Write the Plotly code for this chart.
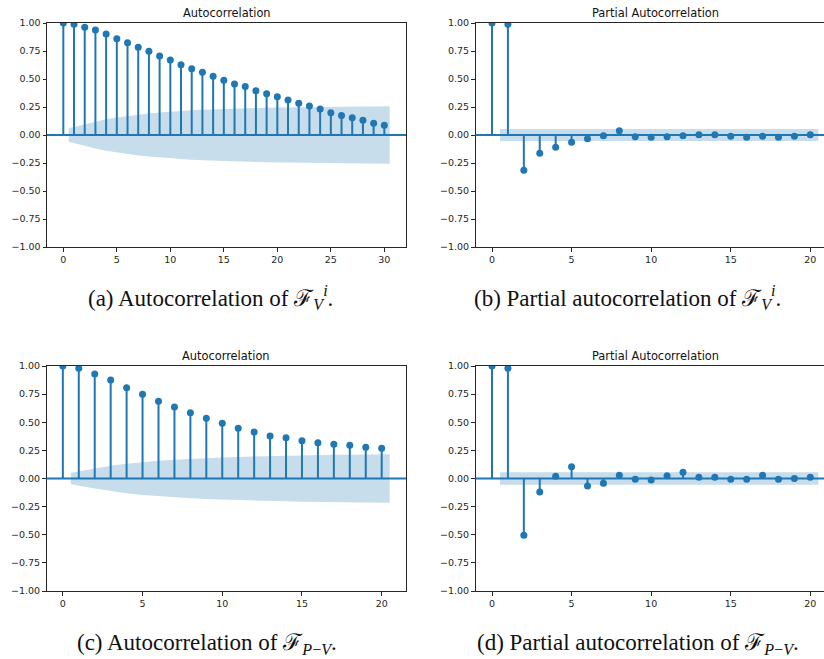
import plotly.graph_objects as go

# ---------------- data ----------------
lags_30 = list(range(31))
lags_20 = list(range(21))

acf_a = [1.0, 0.988, 0.961, 0.938, 0.902, 0.860, 0.824, 0.783, 0.747, 0.705,
         0.670, 0.628, 0.592, 0.560, 0.524, 0.488, 0.455, 0.432, 0.396, 0.369,
         0.342, 0.313, 0.283, 0.259, 0.232, 0.199, 0.173, 0.155, 0.131, 0.104, 0.086]
conf_a = [0.060, 0.095, 0.120, 0.140, 0.157, 0.170, 0.182, 0.192, 0.200, 0.208,
          0.214, 0.220, 0.225, 0.229, 0.233, 0.236, 0.239, 0.241, 0.243, 0.245,
          0.247, 0.249, 0.250, 0.251, 0.252, 0.253, 0.254, 0.255, 0.255, 0.256]

pacf_b = [1.0, 0.988, -0.315, -0.164, -0.110, -0.065, -0.033, -0.006, 0.039, -0.015,
          -0.021, -0.015, -0.006, 0.003, 0.003, -0.012, -0.021, -0.012, -0.021, -0.012, 0.003]
conf_b = [0.054] * 20

acf_c = [1.0, 0.979, 0.929, 0.876, 0.807, 0.748, 0.686, 0.636, 0.585, 0.535,
         0.490, 0.446, 0.413, 0.378, 0.363, 0.336, 0.318, 0.304, 0.295, 0.277, 0.268]
conf_c = [0.052, 0.090, 0.113, 0.132, 0.146, 0.158, 0.167, 0.175, 0.182, 0.187,
          0.192, 0.196, 0.200, 0.203, 0.206, 0.208, 0.210, 0.212, 0.214, 0.215]

pacf_d = [1.0, 0.979, -0.505, -0.120, 0.019, 0.105, -0.067, -0.043, 0.028, -0.007,
          -0.013, 0.025, 0.055, 0.010, 0.010, -0.007, -0.007, 0.028, -0.007, 0.000, 0.010]
conf_d = [0.055] * 20

titles = ["Autocorrelation", "Partial Autocorrelation", "Autocorrelation", "Partial Autocorrelation"]
captions = [
    "(a) Autocorrelation of ℱ<sub><i>V</i></sub><sup><i>i</i></sup>.",
    "(b) Partial autocorrelation of ℱ<sub><i>V</i></sub><sup><i>i</i></sup>.",
    "(c) Autocorrelation of ℱ<sub><i>P</i>−<i>V</i></sub>.",
    "(d) Partial autocorrelation of ℱ<sub><i>P</i>−<i>V</i></sub>.",
]

BLUE = "#1f77b4"
BAND = "rgba(31,119,180,0.25)"

fig = go.Figure()

panels = [
    ("x", "y", lags_30, acf_a, conf_a),
    ("x2", "y2", lags_20, pacf_b, conf_b),
    ("x3", "y3", lags_20, acf_c, conf_c),
    ("x4", "y4", lags_20, pacf_d, conf_d),
]

for xa, ya, lags, vals, conf in panels:
    # stems
    sx, sy = [], []
    for l, v in zip(lags, vals):
        sx += [l, l, None]
        sy += [0, v, None]
    fig.add_trace(go.Scatter(x=sx, y=sy, mode="lines", line=dict(color=BLUE, width=2),
                             xaxis=xa, yaxis=ya, hoverinfo="skip"))
    # markers
    fig.add_trace(go.Scatter(x=lags, y=vals, mode="markers",
                             marker=dict(color=BLUE, size=7), xaxis=xa, yaxis=ya))
    # confidence band (lags 1..N, ends widened by half a lag)
    bx = [float(l) for l in lags[1:]]
    bx[0] -= 0.5
    bx[-1] += 0.5
    upper = list(conf)
    lower = [-c for c in conf]
    fig.add_trace(go.Scatter(x=bx + bx[::-1], y=upper + lower[::-1], mode="lines",
                             fill="toself", fillcolor=BAND, line=dict(width=0),
                             xaxis=xa, yaxis=ya, hoverinfo="skip"))

# zero lines across each axes
for xa, ya, *_r in panels:
    fig.add_shape(type="line", xref=f"{xa} domain", yref=ya, x0=0, x1=1, y0=0, y1=0,
                  line=dict(color=BLUE, width=2))

W, H = 824, 659
def fx(px): return px / W
def fy(py): return 1 - py / H

xdoms = [[fx(47), fx(406)], [fx(475.5), 1.0], [fx(46.5), fx(406)], [fx(475.5), 1.0]]
ydoms = [[fy(247), fy(23)], [fy(247), fy(23)], [fy(591), fy(366)], [fy(591), fy(366)]]
xranges = [[-1.525, 32.025], [-1.037, 20.86], [-1.025, 21.525], [-1.037, 20.86]]

tickfont = dict(family="DejaVu Sans", size=9.5, color="#262626")
for i in range(4):
    sfx = "" if i == 0 else str(i + 1)
    right_panel = i in (1, 3)
    fig.update_layout(**{
        f"xaxis{sfx}": dict(domain=xdoms[i], range=xranges[i], anchor=f"y{sfx}",
                            tickmode="linear", tick0=0, dtick=5, ticks="outside", ticklen=3.5,
                            tickwidth=1, tickcolor="#262626", showline=True, linecolor="#262626",
                            linewidth=1, mirror=True, showgrid=False, zeroline=False,
                            tickfont=tickfont, automargin=False),
        f"yaxis{sfx}": dict(domain=ydoms[i], range=[-1, 1], anchor=f"x{sfx}",
                            tickmode="linear", tick0=-1, dtick=0.25, tickformat=".2f",
                            ticks="outside", ticklen=3.5, tickwidth=1, tickcolor="#262626",
                            showline=True, linecolor="#262626", linewidth=1,
                            mirror=(not right_panel), showgrid=False, zeroline=False,
                            tickfont=tickfont, automargin=False),
    })

# panel titles
title_pos = [((47 + 406) / 2, 13), ((475.5 + 834.5) / 2, 13), ((46.5 + 406) / 2, 356), ((475.5 + 834.5) / 2, 356)]
for t, (px, py) in zip(titles, title_pos):
    fig.add_annotation(text=t, x=fx(px), y=fy(py), xref="paper", yref="paper",
                       showarrow=False, xanchor="center", yanchor="middle",
                       font=dict(family="DejaVu Sans", size=11.4, color="#111"))

# captions
cap_pos = [(210, 298), (627.5, 298), (207, 644), (637.5, 644)]
for c, (px, py) in zip(captions, cap_pos):
    fig.add_annotation(text=c, x=fx(px), y=fy(py), xref="paper", yref="paper",
                       showarrow=False, xanchor="center", yanchor="middle",
                       font=dict(family="Liberation Serif", size=23, color="#111"))

fig.update_layout(width=W, height=H, margin=dict(l=0, r=0, t=0, b=0, autoexpand=False),
                  paper_bgcolor="white", plot_bgcolor="white", showlegend=False)

fig.write_html("out.html")
